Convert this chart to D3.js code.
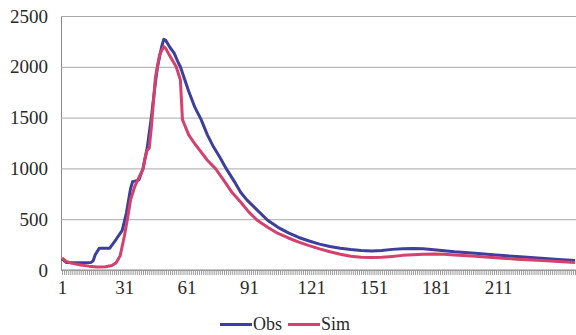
<!DOCTYPE html>
<html>
<head>
<meta charset="utf-8">
<script src="https://cdn.jsdelivr.net/npm/d3@7"></script>
<style>
  body { margin: 0; background: #fff; }
  #chart text { font-family: "Liberation Serif", "Times New Roman", serif; fill: #2a2a2a; }
</style>
</head>
<body>
<div id="chart"></div>
<script>
// days (category index) and values
var obsDays = [1, 3, 8, 15, 16, 17, 19, 24, 27, 30, 32, 34, 35, 38, 40, 42, 44, 46, 47, 49, 50, 51, 53, 55, 57, 58, 60, 62, 65, 68, 71, 74, 77, 80, 84, 87, 90, 95, 100, 105, 110, 115, 120, 125, 130, 135, 140, 145, 150, 155, 160, 165, 170, 175, 180, 185, 190, 200, 210, 220, 230, 240, 248];
var obsVals = [110, 75, 72, 75, 90, 150, 215, 215, 300, 390, 560, 800, 870, 885, 1000, 1200, 1500, 1850, 2000, 2200, 2270, 2260, 2190, 2135, 2040, 2000, 1880, 1760, 1600, 1480, 1330, 1210, 1110, 1000, 870, 765, 690, 590, 490, 420, 365, 320, 285, 255, 232, 215, 202, 193, 188, 192, 203, 210, 211, 208, 200, 190, 180, 165, 148, 132, 117, 104, 94];

var simDays = [1, 3, 6, 10, 14, 18, 22, 25, 27, 29, 31, 33, 34, 36, 38, 40, 41, 42, 43, 44, 45, 46, 48, 50, 51, 52, 54, 56, 58, 59, 60, 62, 65, 68, 71, 75, 79, 83, 87, 91, 95, 100, 105, 110, 115, 120, 125, 130, 135, 140, 145, 150, 155, 160, 165, 170, 175, 180, 185, 190, 200, 210, 220, 230, 240, 248];
var simVals = [120, 85, 65, 50, 38, 30, 32, 45, 70, 140, 330, 560, 690, 820, 910, 990, 1100, 1180, 1200, 1400, 1650, 1900, 2120, 2200, 2180, 2140, 2070, 2000, 1870, 1480, 1430, 1330, 1240, 1160, 1080, 995, 880, 760, 670, 570, 490, 420, 360, 315, 275, 240, 208, 180, 155, 136, 126, 122, 125, 134, 144, 151, 156, 157, 154, 148, 135, 120, 107, 95, 83, 73];

var xLabels = [1, 31, 61, 91, 121, 151, 181, 211];
var yTicks = [0, 500, 1000, 1500, 2000, 2500];
var nDays = 248;

(function() {
  var w = 576, h = 335;
  var pLeft = 61, pRight = 577, pTop = 16, pBottom = 270;

  var svg = d3.select("#chart").append("svg")
      .attr("width", w)
      .attr("height", h);

  var x = d3.scaleLinear().domain([1, nDays]).range([pLeft + 1, pRight - 2]);
  var y = d3.scaleLinear().domain([0, 2500]).range([pBottom, pTop]);

  // grid + y labels
  var yAxis = d3.axisLeft(y).tickValues(yTicks).tickFormat(d3.format("d"))
      .tickSizeInner(-(pRight - pLeft)).tickSizeOuter(0).tickPadding(13);
  var gy = svg.append("g")
      .attr("transform", "translate(" + pLeft + ",0)")
      .call(yAxis);
  gy.select(".domain").attr("stroke", "#8a8a8a");
  gy.selectAll(".tick line").attr("stroke", "#a8a8a8");
  gy.selectAll(".tick text").attr("font-size", "19px");

  // category ticks along the bottom
  var minor = d3.axisBottom(x).tickValues(d3.range(1, nDays + 1)).tickSize(5).tickFormat("");
  var gm = svg.append("g")
      .attr("transform", "translate(0," + pBottom + ")")
      .call(minor);
  gm.select(".domain").attr("stroke", "#8a8a8a").attr("d", "M" + pLeft + ",0H" + pRight);
  gm.selectAll(".tick line").attr("stroke", "#9a9a9a");

  var xAxis = d3.axisBottom(x).tickValues(xLabels).tickSize(0).tickPadding(11);
  var gx = svg.append("g")
      .attr("transform", "translate(0," + pBottom + ")")
      .call(xAxis);
  gx.select(".domain").remove();
  gx.selectAll(".tick text").attr("font-size", "19px");

  var line = d3.line()
      .x(function(d) { return x(d[0]); })
      .y(function(d) { return y(d[1]); });

  var obs = obsDays.map(function(d, i) { return [d, obsVals[i]]; });
  var sim = simDays.map(function(d, i) { return [d, simVals[i]]; });

  svg.append("path")
      .datum(obs)
      .attr("fill", "none")
      .attr("stroke", "#3d3f9c")
      .attr("stroke-width", 3)
      .attr("stroke-linejoin", "round")
      .attr("d", line);

  svg.append("path")
      .datum(sim)
      .attr("fill", "none")
      .attr("stroke", "#d4416d")
      .attr("stroke-width", 3)
      .attr("stroke-linejoin", "round")
      .attr("d", line);

  // legend
  var legend = [["Obs", "#3d3f9c", 220], ["Sim", "#d4416d", 288]];
  legend.forEach(function(l) {
    svg.append("line")
      .attr("x1", l[2]).attr("x2", l[2] + 32)
      .attr("y1", 324.5).attr("y2", 324.5)
      .attr("stroke", l[1]).attr("stroke-width", 3);
    svg.append("text")
      .attr("x", l[2] + 33)
      .attr("y", 330)
      .attr("font-size", "18px")
      .text(l[0]);
  });
})();
</script>
</body>
</html>
